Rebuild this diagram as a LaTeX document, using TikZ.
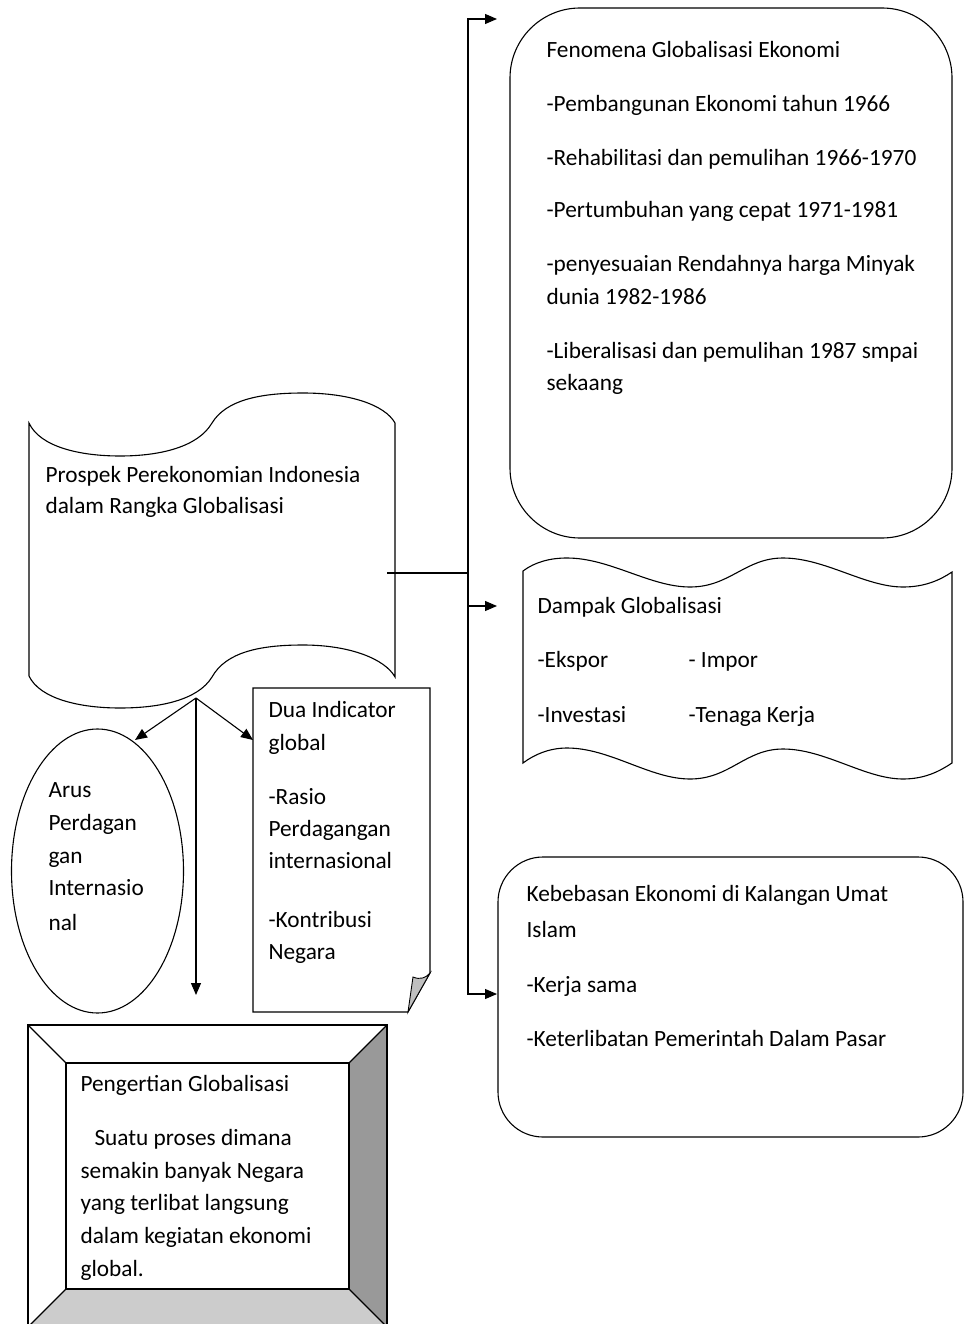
\documentclass[tikz,border=0pt]{standalone}
\usepackage{fontspec}
\setmainfont{Carlito}
\usetikzlibrary{arrows.meta}
\begin{document}
\begin{tikzpicture}[x=1pt,y=-1pt,
  line width=1.1pt,
  txt/.style={anchor=base west,inner sep=0pt,font=\fontsize{23.3}{28}\selectfont},
  arr/.style={-{Triangle[length=12pt,width=10pt]}}]
\useasboundingbox (0,0) rectangle (965,1324);

% ---------- shapes ----------
% Fenomena (rounded rectangle)
\draw[rounded corners=70pt] (510,8) rectangle (952,538);

% Prospek (wave shape)
\draw (29,423) .. controls (40,447) and (80,456) .. (120,456)
  .. controls (160,456) and (198,447) .. (212,423)
  .. controls (226,400) and (260,393) .. (303,393)
  .. controls (350,393) and (385,405) .. (395,423)
  -- (395,677)
  .. controls (385,659) and (350,645) .. (303,645)
  .. controls (260,645) and (226,652) .. (212,677)
  .. controls (198,700) and (160,708) .. (120,708)
  .. controls (80,708) and (40,699) .. (29,676) -- cycle;

% Dampak (punched tape)
\draw (523,571) .. controls (535,562) and (550,558) .. (567,558)
  .. controls (610,558) and (650,587) .. (690,587)
  .. controls (730,587) and (745,558) .. (783,558)
  .. controls (825,558) and (865,587) .. (903,587)
  .. controls (925,587) and (940,580) .. (952,572)
  -- (952,763)
  .. controls (940,771) and (925,779) .. (903,779)
  .. controls (865,779) and (825,749) .. (783,749)
  .. controls (745,749) and (730,779) .. (690,779)
  .. controls (650,779) and (610,748) .. (567,748)
  .. controls (550,748) and (535,754) .. (523,763) -- cycle;

% Kebebasan (rounded rectangle)
\draw[rounded corners=45pt] (498,857) rectangle (963,1137);

% Arus (ellipse)
\draw (97.5,871) ellipse [x radius=86pt, y radius=142pt];

% Dua Indicator (folded corner)
\draw (253,688) -- (430,688) -- (430,973) -- (408,1012) -- (253,1012) -- cycle;
\filldraw[fill=black!25,line width=0.9pt] (408,1012) .. controls (410,995) .. (413,977)
  .. controls (420,980) and (426,978) .. (430,973) -- cycle;

% Pengertian (bevel)
\fill[black!40] (387,1025) -- (349,1063) -- (349,1289) -- (387,1327) -- cycle;
\fill[black!20] (66,1289) -- (349,1289) -- (387,1327) -- (28,1327) -- cycle;
\draw (28,1025) rectangle (387,1327);
\draw (66,1063) rectangle (349,1289);
\draw (28,1025) -- (66,1063) (387,1025) -- (349,1063)
      (387,1327) -- (349,1289) (28,1327) -- (66,1289);

% ---------- connection points ----------
\coordinate (prosR) at (387,573);
\coordinate (busM) at (468,573);
\coordinate (fenIn) at (497,19);
\coordinate (dampIn) at (497,606);
\coordinate (kebIn) at (497,994);
\coordinate (prosB) at (196,698);
\coordinate (arusIn) at (135,740);
\coordinate (duaIn) at (253,740);
\coordinate (pengIn) at (196,995);

% ---------- texts ----------
\node[txt] (fen0) at (546,58) {Fenomena Globalisasi Ekonomi};
\node[txt] (fen1) at (546,112) {-Pembangunan Ekonomi tahun 1966};
\node[txt] (fen2) at (546,166) {-Rehabilitasi dan pemulihan 1966-1970};
\node[txt] (fen3) at (546,218) {-Pertumbuhan yang cepat 1971-1981};
\node[txt] (fen4) at (546,272) {-penyesuaian Rendahnya harga Minyak};
\node[txt] (fen5) at (546,304) {dunia 1982-1986};
\node[txt] (fen6) at (546,358) {-Liberalisasi dan pemulihan 1987 smpai};
\node[txt] (fen7) at (546,390) {sekaang};

\node[txt] (pro0) at (45,482) {Prospek Perekonomian Indonesia};
\node[txt] (pro1) at (45,513) {dalam Rangka Globalisasi};

\node[txt] (dam0) at (537,613) {Dampak Globalisasi};
\node[txt] (dam1) at (537,667) {-Ekspor};
\node[txt] (dam2) at (688,667) {- Impor};
\node[txt] (dam3) at (537,722) {-Investasi};
\node[txt] (dam4) at (688,722) {-Tenaga Kerja};

\node[txt] (aru0) at (48,797) {Arus};
\node[txt] (aru1) at (48,830) {Perdagan};
\node[txt] (aru2) at (48,863) {gan};
\node[txt] (aru3) at (48,895) {Internasio};
\node[txt] (aru4) at (48,930) {nal};

\node[txt] (dua0) at (268,717) {Dua Indicator};
\node[txt] (dua1) at (268,750) {global};
\node[txt] (dua2) at (268,804) {-Rasio};
\node[txt] (dua3) at (268,836) {Perdagangan};
\node[txt] (dua4) at (268,868) {internasional};
\node[txt] (dua5) at (268,927) {-Kontribusi};
\node[txt] (dua6) at (268,959) {Negara};

\node[txt] (keb0) at (526,901) {Kebebasan Ekonomi di Kalangan Umat};
\node[txt] (keb1) at (526,937) {Islam};
\node[txt] (keb2) at (526,992) {-Kerja sama};
\node[txt] (keb3) at (526,1046) {-Keterlibatan Pemerintah Dalam Pasar};

\node[txt] (pen0) at (80,1091) {Pengertian Globalisasi};
\node[txt] (pen1) at (94,1145) {Suatu proses dimana};
\node[txt] (pen2) at (80,1178) {semakin banyak Negara};
\node[txt] (pen3) at (80,1210) {yang terlibat langsung};
\node[txt] (pen4) at (80,1243) {dalam kegiatan ekonomi};
\node[txt] (pen5) at (80,1276) {global.};

% ---------- connectors ----------
\draw (prosR) -- (busM);
\draw[arr] (busM) |- (fenIn);
\draw[arr] (busM) |- (kebIn);
\draw[arr] (busM |- dampIn) -- (dampIn);
\draw[arr] (prosB) -- (arusIn);
\draw[arr] (prosB) -- (duaIn);
\draw[arr] (prosB) -- (pengIn);
\end{tikzpicture}
\end{document}
